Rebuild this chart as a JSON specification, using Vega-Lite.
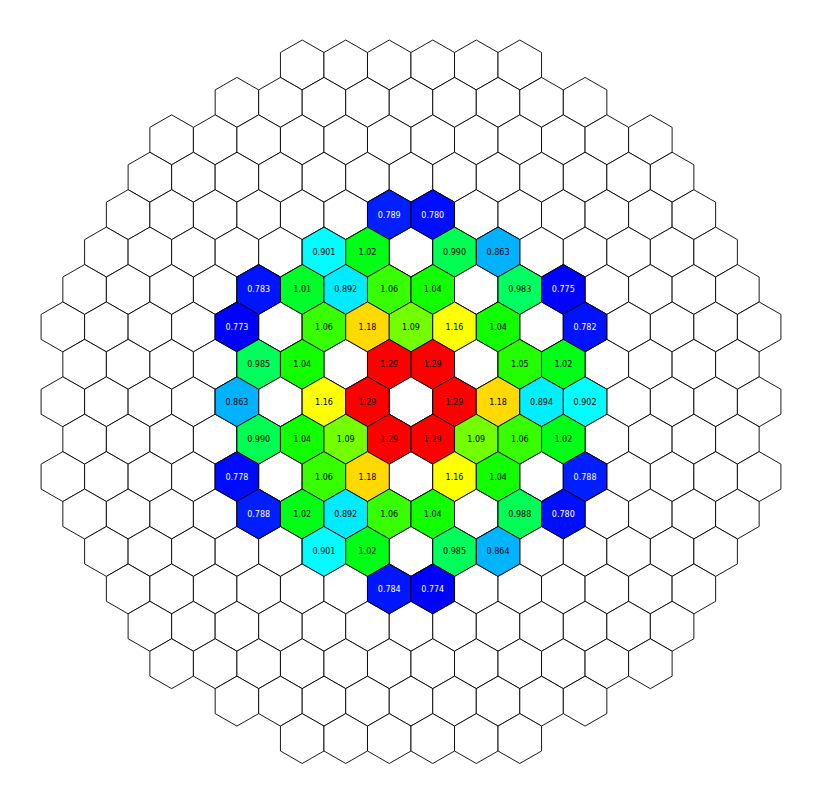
{
  "$schema": "https://vega.github.io/schema/vega-lite/v6.json",
  "width": 826,
  "height": 798,
  "padding": 0,
  "autosize": {"type": "none"},
  "background": "white",
  "config": {"view": {"stroke": null}},
  "datasets": {
    "grid": [
      {"r":-9,"c":-5},{"r":-9,"c":-3},{"r":-9,"c":-1},{"r":-9,"c":1},{"r":-9,"c":3},{"r":-9,"c":5},
      {"r":-8,"c":-8},{"r":-8,"c":-6},{"r":-8,"c":-4},{"r":-8,"c":-2},{"r":-8,"c":0},{"r":-8,"c":2},{"r":-8,"c":4},{"r":-8,"c":6},{"r":-8,"c":8},
      {"r":-7,"c":-11},{"r":-7,"c":-9},{"r":-7,"c":-7},{"r":-7,"c":-5},{"r":-7,"c":-3},{"r":-7,"c":-1},{"r":-7,"c":1},{"r":-7,"c":3},{"r":-7,"c":5},{"r":-7,"c":7},{"r":-7,"c":9},{"r":-7,"c":11},
      {"r":-6,"c":-12},{"r":-6,"c":-10},{"r":-6,"c":-8},{"r":-6,"c":-6},{"r":-6,"c":-4},{"r":-6,"c":-2},{"r":-6,"c":0},{"r":-6,"c":2},{"r":-6,"c":4},{"r":-6,"c":6},{"r":-6,"c":8},{"r":-6,"c":10},{"r":-6,"c":12},
      {"r":-5,"c":-13},{"r":-5,"c":-11},{"r":-5,"c":-9},{"r":-5,"c":-7},{"r":-5,"c":-5},{"r":-5,"c":-3},{"r":-5,"c":-1},{"r":-5,"c":1},{"r":-5,"c":3},{"r":-5,"c":5},{"r":-5,"c":7},{"r":-5,"c":9},{"r":-5,"c":11},{"r":-5,"c":13},
      {"r":-4,"c":-14},{"r":-4,"c":-12},{"r":-4,"c":-10},{"r":-4,"c":-8},{"r":-4,"c":-6},{"r":-4,"c":-4},{"r":-4,"c":-2},{"r":-4,"c":0},{"r":-4,"c":2},{"r":-4,"c":4},{"r":-4,"c":6},{"r":-4,"c":8},{"r":-4,"c":10},{"r":-4,"c":12},{"r":-4,"c":14},
      {"r":-3,"c":-15},{"r":-3,"c":-13},{"r":-3,"c":-11},{"r":-3,"c":-9},{"r":-3,"c":-7},{"r":-3,"c":-5},{"r":-3,"c":-3},{"r":-3,"c":-1},{"r":-3,"c":1},{"r":-3,"c":3},{"r":-3,"c":5},{"r":-3,"c":7},{"r":-3,"c":9},{"r":-3,"c":11},{"r":-3,"c":13},{"r":-3,"c":15},
      {"r":-2,"c":-16},{"r":-2,"c":-14},{"r":-2,"c":-12},{"r":-2,"c":-10},{"r":-2,"c":-8},{"r":-2,"c":-6},{"r":-2,"c":-4},{"r":-2,"c":-2},{"r":-2,"c":0},{"r":-2,"c":2},{"r":-2,"c":4},{"r":-2,"c":6},{"r":-2,"c":8},{"r":-2,"c":10},{"r":-2,"c":12},{"r":-2,"c":14},{"r":-2,"c":16},
      {"r":-1,"c":-15},{"r":-1,"c":-13},{"r":-1,"c":-11},{"r":-1,"c":-9},{"r":-1,"c":-7},{"r":-1,"c":-5},{"r":-1,"c":-3},{"r":-1,"c":-1},{"r":-1,"c":1},{"r":-1,"c":3},{"r":-1,"c":5},{"r":-1,"c":7},{"r":-1,"c":9},{"r":-1,"c":11},{"r":-1,"c":13},{"r":-1,"c":15},
      {"r":0,"c":-16},{"r":0,"c":-14},{"r":0,"c":-12},{"r":0,"c":-10},{"r":0,"c":-8},{"r":0,"c":-6},{"r":0,"c":-4},{"r":0,"c":-2},{"r":0,"c":0},{"r":0,"c":2},{"r":0,"c":4},{"r":0,"c":6},{"r":0,"c":8},{"r":0,"c":10},{"r":0,"c":12},{"r":0,"c":14},{"r":0,"c":16},
      {"r":1,"c":-15},{"r":1,"c":-13},{"r":1,"c":-11},{"r":1,"c":-9},{"r":1,"c":-7},{"r":1,"c":-5},{"r":1,"c":-3},{"r":1,"c":-1},{"r":1,"c":1},{"r":1,"c":3},{"r":1,"c":5},{"r":1,"c":7},{"r":1,"c":9},{"r":1,"c":11},{"r":1,"c":13},{"r":1,"c":15},
      {"r":2,"c":-16},{"r":2,"c":-14},{"r":2,"c":-12},{"r":2,"c":-10},{"r":2,"c":-8},{"r":2,"c":-6},{"r":2,"c":-4},{"r":2,"c":-2},{"r":2,"c":0},{"r":2,"c":2},{"r":2,"c":4},{"r":2,"c":6},{"r":2,"c":8},{"r":2,"c":10},{"r":2,"c":12},{"r":2,"c":14},{"r":2,"c":16},
      {"r":3,"c":-15},{"r":3,"c":-13},{"r":3,"c":-11},{"r":3,"c":-9},{"r":3,"c":-7},{"r":3,"c":-5},{"r":3,"c":-3},{"r":3,"c":-1},{"r":3,"c":1},{"r":3,"c":3},{"r":3,"c":5},{"r":3,"c":7},{"r":3,"c":9},{"r":3,"c":11},{"r":3,"c":13},{"r":3,"c":15},
      {"r":4,"c":-14},{"r":4,"c":-12},{"r":4,"c":-10},{"r":4,"c":-8},{"r":4,"c":-6},{"r":4,"c":-4},{"r":4,"c":-2},{"r":4,"c":0},{"r":4,"c":2},{"r":4,"c":4},{"r":4,"c":6},{"r":4,"c":8},{"r":4,"c":10},{"r":4,"c":12},{"r":4,"c":14},
      {"r":5,"c":-13},{"r":5,"c":-11},{"r":5,"c":-9},{"r":5,"c":-7},{"r":5,"c":-5},{"r":5,"c":-3},{"r":5,"c":-1},{"r":5,"c":1},{"r":5,"c":3},{"r":5,"c":5},{"r":5,"c":7},{"r":5,"c":9},{"r":5,"c":11},{"r":5,"c":13},
      {"r":6,"c":-12},{"r":6,"c":-10},{"r":6,"c":-8},{"r":6,"c":-6},{"r":6,"c":-4},{"r":6,"c":-2},{"r":6,"c":0},{"r":6,"c":2},{"r":6,"c":4},{"r":6,"c":6},{"r":6,"c":8},{"r":6,"c":10},{"r":6,"c":12},
      {"r":7,"c":-11},{"r":7,"c":-9},{"r":7,"c":-7},{"r":7,"c":-5},{"r":7,"c":-3},{"r":7,"c":-1},{"r":7,"c":1},{"r":7,"c":3},{"r":7,"c":5},{"r":7,"c":7},{"r":7,"c":9},{"r":7,"c":11},
      {"r":8,"c":-8},{"r":8,"c":-6},{"r":8,"c":-4},{"r":8,"c":-2},{"r":8,"c":0},{"r":8,"c":2},{"r":8,"c":4},{"r":8,"c":6},{"r":8,"c":8},
      {"r":9,"c":-5},{"r":9,"c":-3},{"r":9,"c":-1},{"r":9,"c":1},{"r":9,"c":3},{"r":9,"c":5}
    ],
    "vals": [
      {"r":-5,"c":-1,"v":0.789},{"r":-5,"c":1,"v":0.780},
      {"r":-4,"c":-4,"v":0.901},{"r":-4,"c":-2,"v":1.02},{"r":-4,"c":2,"v":0.990},{"r":-4,"c":4,"v":0.863},
      {"r":-3,"c":-7,"v":0.783},{"r":-3,"c":-5,"v":1.01},{"r":-3,"c":-3,"v":0.892},{"r":-3,"c":-1,"v":1.06},{"r":-3,"c":1,"v":1.04},{"r":-3,"c":5,"v":0.983},{"r":-3,"c":7,"v":0.775},
      {"r":-2,"c":-8,"v":0.773},{"r":-2,"c":-4,"v":1.06},{"r":-2,"c":-2,"v":1.18},{"r":-2,"c":0,"v":1.09},{"r":-2,"c":2,"v":1.16},{"r":-2,"c":4,"v":1.04},{"r":-2,"c":8,"v":0.782},
      {"r":-1,"c":-7,"v":0.985},{"r":-1,"c":-5,"v":1.04},{"r":-1,"c":-1,"v":1.29},{"r":-1,"c":1,"v":1.29},{"r":-1,"c":5,"v":1.05},{"r":-1,"c":7,"v":1.02},
      {"r":0,"c":-8,"v":0.863},{"r":0,"c":-4,"v":1.16},{"r":0,"c":-2,"v":1.29},{"r":0,"c":2,"v":1.29},{"r":0,"c":4,"v":1.18},{"r":0,"c":6,"v":0.894},{"r":0,"c":8,"v":0.902},
      {"r":1,"c":-7,"v":0.990},{"r":1,"c":-5,"v":1.04},{"r":1,"c":-3,"v":1.09},{"r":1,"c":-1,"v":1.29},{"r":1,"c":1,"v":1.29},{"r":1,"c":3,"v":1.09},{"r":1,"c":5,"v":1.06},{"r":1,"c":7,"v":1.02},
      {"r":2,"c":-8,"v":0.778},{"r":2,"c":-4,"v":1.06},{"r":2,"c":-2,"v":1.18},{"r":2,"c":2,"v":1.16},{"r":2,"c":4,"v":1.04},{"r":2,"c":8,"v":0.788},
      {"r":3,"c":-7,"v":0.788},{"r":3,"c":-5,"v":1.02},{"r":3,"c":-3,"v":0.892},{"r":3,"c":-1,"v":1.06},{"r":3,"c":1,"v":1.04},{"r":3,"c":5,"v":0.988},{"r":3,"c":7,"v":0.780},
      {"r":4,"c":-4,"v":0.901},{"r":4,"c":-2,"v":1.02},{"r":4,"c":2,"v":0.985},{"r":4,"c":4,"v":0.864},
      {"r":5,"c":-1,"v":0.784},{"r":5,"c":1,"v":0.774}
    ]
  },
  "encoding": {
    "x": {"field": "c", "type": "quantitative", "axis": null, "scale": {"domain": [-18.888, 19.072], "nice": false, "zero": false}},
    "y": {"field": "r", "type": "quantitative", "axis": null, "scale": {"domain": [-10.736, 10.589], "nice": false, "zero": false, "reverse": true}}
  },
  "layer": [
    {
      "data": {"name": "grid"},
      "mark": {"type": "point", "shape": "M0,-0.9979L0.8704,-0.4989L0.8704,0.4989L0,0.9979L-0.8704,0.4989L-0.8704,-0.4989Z", "size": 2500, "filled": true, "fill": "white", "stroke": "black", "strokeWidth": 0.9, "opacity": 1, "fillOpacity": 1, "strokeOpacity": 1}
    },
    {
      "data": {"name": "vals"},
      "mark": {"type": "point", "shape": "M0,-0.9979L0.8704,-0.4989L0.8704,0.4989L0,0.9979L-0.8704,0.4989L-0.8704,-0.4989Z", "size": 2500, "filled": true, "stroke": "black", "strokeWidth": 0.9, "opacity": 1, "fillOpacity": 1, "strokeOpacity": 1},
      "encoding": {
        "fill": {"field": "v", "type": "quantitative", "legend": null, "scale": {"domain": [0.773, 0.90225, 1.0315, 1.16075, 1.29], "range": ["#0000ff", "#00ffff", "#00ff00", "#ffff00", "#ff0000"], "interpolate": "rgb"}}
      }
    },
    {
      "data": {"name": "vals"},
      "mark": {"type": "text", "font": "DejaVu Sans", "fontSize": 8, "align": "center", "baseline": "middle", "dy": 1},
      "encoding": {
        "text": {"field": "v", "type": "quantitative", "format": ".3g"},
        "color": {"condition": {"test": "datum.v < 0.8", "value": "white"}, "value": "black"}
      }
    }
  ]
}
